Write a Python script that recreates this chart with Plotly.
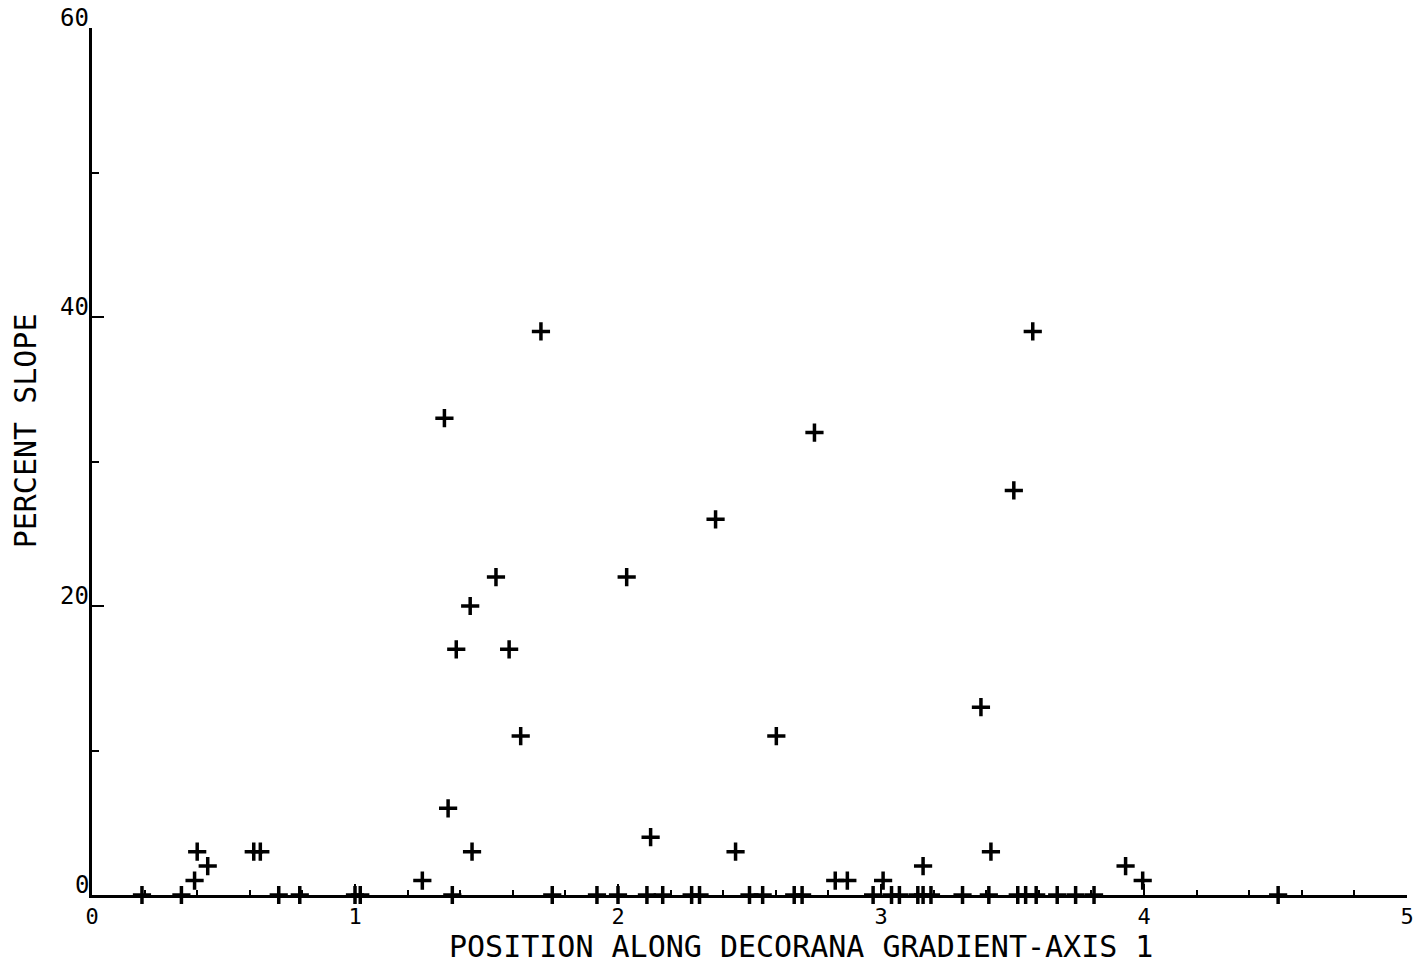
import plotly.graph_objects as go

# Points above the axis (position along DECORANA axis 1, percent slope)
x_pts = [0.40, 0.39, 0.44, 0.615, 0.64, 1.256, 1.34, 1.354, 1.385, 1.438, 1.445,
         1.536, 1.586, 1.63, 1.707, 2.033, 2.124, 2.371, 2.447, 2.602, 2.747,
         2.826, 2.872, 3.008, 3.16, 3.38, 3.418, 3.505, 3.577, 3.93, 3.995]
y_pts = [3, 1, 2, 3, 3, 1, 33, 6, 17, 20, 3,
         22, 17, 11, 39, 22, 4, 26, 3, 11, 32,
         1, 1, 1, 2, 13, 3, 28, 39, 2, 1]

# Points lying on the axis (percent slope = 0)
x_zero = [0.19, 0.34, 0.71, 0.79, 1.0, 1.02, 1.37, 1.75, 1.92, 2.0, 2.11, 2.17,
          2.28, 2.31, 2.50, 2.55, 2.67, 2.70, 2.97, 3.04, 3.07, 3.14, 3.16, 3.19,
          3.31, 3.41, 3.52, 3.55, 3.59, 3.67, 3.74, 3.81, 4.51]
y_zero = [0] * len(x_zero)

x_ticks = [0, 1, 2, 3, 4, 5]
y_ticks = [0, 20, 40, 60]
x_title = "POSITION ALONG DECORANA GRADIENT-AXIS 1"
y_title = "PERCENT SLOPE"

FONT = "DejaVu Sans Mono"

fig = go.Figure()
fig.add_trace(go.Scatter(
    x=x_pts + x_zero, y=y_pts + y_zero, mode="markers",
    marker=dict(symbol="cross-thin", size=13, color="black",
                line=dict(width=3.5, color="black")),
    cliponaxis=False, showlegend=False, hoverinfo="x+y"))

fig.update_layout(
    width=1426, height=965,
    margin=dict(l=92, r=16, t=28, b=70),
    paper_bgcolor="white", plot_bgcolor="white",
    font=dict(family=FONT, color="black"),
    xaxis=dict(range=[0, 5], tickvals=x_ticks, ticktext=[str(v) for v in x_ticks],
               ticks="inside", ticklen=11, tickwidth=2, tickcolor="black",
               showline=True, linecolor="black", linewidth=3,
               showgrid=False, zeroline=False, ticklabelstandoff=0,
               minor=dict(dtick=0.2, ticks="inside", ticklen=5, tickwidth=2,
                          tickcolor="black", showgrid=False),
               tickfont=dict(family=FONT, size=22, color="black")),
    yaxis=dict(range=[0, 60], tickvals=y_ticks, showticklabels=False,
               ticks="inside", ticklen=12, tickwidth=2, tickcolor="black",
               showline=True, linecolor="black", linewidth=3,
               showgrid=False, zeroline=False,
               minor=dict(dtick=10, ticks="inside", ticklen=7, tickwidth=2,
                          tickcolor="black", showgrid=False)),
)

# y tick labels sitting just above their ticks
for v in y_ticks:
    fig.add_annotation(x=0, y=v, xref="x", yref="y", text=str(v),
                       showarrow=False, xanchor="right", yanchor="bottom",
                       xshift=-1, yshift=-6,
                       font=dict(family=FONT, size=24, color="black"))

fig.add_annotation(x=0.539, y=-0.0598, xref="paper", yref="paper", text=x_title,
                   showarrow=False, xanchor="center", yanchor="middle",
                   font=dict(family=FONT, size=30, color="black"))
fig.add_annotation(x=-0.0508, y=0.535, xref="paper", yref="paper", text=y_title,
                   showarrow=False, xanchor="center", yanchor="middle", textangle=-90,
                   font=dict(family=FONT, size=30, color="black"))

fig.write_html("out.html")
